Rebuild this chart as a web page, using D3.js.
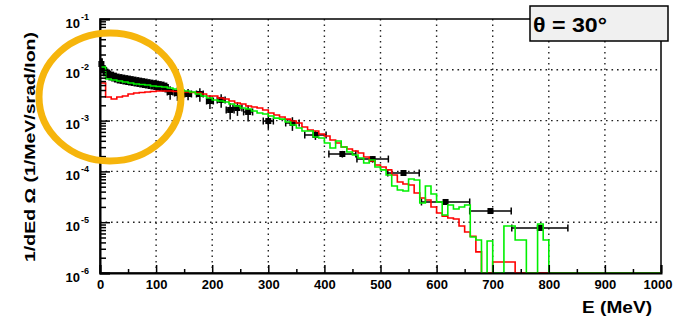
<!DOCTYPE html>
<html>
<head>
<meta charset="utf-8">
<script src="https://cdnjs.cloudflare.com/ajax/libs/d3/7.8.5/d3.min.js"></script>
<style>
    body { margin: 0; background: #fff; }
    svg { display: block; font-family: "Liberation Sans", Arial, sans-serif; }
    .axis text { font-size: 13px; font-weight: bold; fill: #000; }
    .axis .domain { stroke: #000; stroke-width: 2; }
    .axis .tick line { stroke: #000; stroke-width: 1.5; }
</style>
</head>
<body>
<div id="chart"></div>
<script>
// histogram bin edges in MeV (10 MeV bins)
const binEdges = d3.range(0, 1001, 10);

// simulation, red histogram
const redValues = [
    5.5e-3, 2.92e-3, 2.66e-3, 2.92e-3, 3.05e-3, 3.34e-3, 3.49e-3, 3.57e-3, 3.66e-3, 3.74e-3,
    3.83e-3, 3.83e-3, 3.83e-3, 3.74e-3, 3.66e-3, 3.66e-3, 3.57e-3, 3.49e-3, 3.34e-3, 3.05e-3,
    3.05e-3, 2.79e-3, 2.66e-3, 2.43e-3, 2.22e-3, 2.12e-3, 1.94e-3, 1.85e-3, 1.77e-3, 1.62e-3,
    1.41e-3, 1.29e-3, 1.18e-3, 1.07e-3, 9.8e-4, 8.97e-4, 7.48e-4, 6.53e-4, 6.24e-4, 5.45e-4,
    4.98e-4, 4.15e-4, 3.62e-4, 3.02e-4, 2.76e-4, 2.52e-4, 2.30e-4, 1.92e-4, 1.60e-4, 1.34e-4,
    1.22e-4, 1.07e-4, 8.5e-5, 6.2e-5, 5.65e-5, 5.4e-5, 3.76e-5, 2.99e-5, 2.73e-5, 1.99e-5,
    1.52e-5, 1.32e-5, 1.21e-5, 1.16e-5, 8.4e-6, 6.4e-6, 5.3e-6, 2.6e-6, 0, 0,
    1.65e-6, 1.65e-6, 1.65e-6, 1.65e-6, 0, 0, 0, 0, 0, 0,
    0, 0, 0, 0, 0, 0, 0, 0, 0, 0,
    0, 0, 0, 0, 0, 0, 0, 0, 0, 0
];

// simulation, green histogram
const greenValues = [
    1.135e-2, 6.59e-3, 6.30e-3, 6.02e-3, 5.75e-3, 5.50e-3, 5.25e-3, 5.14e-3, 5.02e-3, 4.80e-3,
    4.69e-3, 4.59e-3, 4.38e-3, 4.19e-3, 4.00e-3, 3.83e-3, 3.66e-3, 3.34e-3, 3.05e-3, 2.79e-3,
    2.55e-3, 2.43e-3, 2.32e-3, 2.12e-3, 1.94e-3, 1.77e-3, 1.69e-3, 1.55e-3, 1.41e-3, 1.35e-3,
    1.23e-3, 1.12e-3, 1.07e-3, 9.4e-4, 8.2e-4, 7.15e-4, 6.24e-4, 6.24e-4, 4.75e-4, 4.54e-4,
    3.62e-4, 2.89e-4, 3.97e-4, 3.02e-4, 2.41e-4, 2.10e-4, 1.84e-4, 1.46e-4, 1.68e-4, 1.22e-4,
    1.07e-4, 8.5e-5, 5.16e-5, 4.30e-5, 4.11e-5, 7.08e-5, 6.78e-5, 2.39e-5, 5.16e-5, 3.59e-5,
    2.50e-5, 1.39e-5, 2.18e-5, 1.82e-5, 1.99e-5, 2.18e-5, 5.1e-6, 4.47e-6, 0, 4.27e-6,
    0, 0, 8.4e-6, 8.4e-6, 4.47e-6, 4.47e-6, 0, 0, 9.2e-6, 4.47e-6,
    0, 0, 0, 0, 0, 0, 0, 0, 0, 0,
    0, 0, 0, 0, 0, 0, 0, 0, 0, 0
];

// measured points (black)
const dataEnergy = [
    2.5, 7.5, 12.5, 17.5, 22.5, 27.5, 32.5, 37.5, 42.5, 47.5, 52.5, 57.5,
    62.5, 67.5, 72.5, 77.5, 82.5, 87.5, 92.5, 97.5, 102.5, 107.5, 112.5, 117.5,
    125, 138, 157, 178, 196, 216, 232, 245, 264, 300, 343, 384, 432, 486, 541, 616, 696, 784
];
const dataValue = [
    1.30e-2, 9.9e-3, 8.65e-3, 7.9e-3, 7.55e-3, 7.2e-3, 6.9e-3, 6.75e-3, 6.59e-3, 6.44e-3, 6.30e-3, 6.16e-3,
    6.02e-3, 5.89e-3, 5.75e-3, 5.62e-3, 5.50e-3, 5.37e-3, 5.25e-3, 5.14e-3, 5.02e-3, 4.91e-3, 4.80e-3, 4.59e-3,
    3.66e-3, 3.49e-3, 3.34e-3, 3.34e-3, 2.43e-3, 2.55e-3, 1.62e-3, 1.77e-3, 1.48e-3, 9.8e-4, 8.97e-4, 5.21e-4,
    2.20e-4, 1.75e-4, 9.3e-5, 2.50e-5, 1.66e-5, 7.7e-6
];
const dataEnergyErr = [
    2.5, 2.5, 2.5, 2.5, 2.5, 2.5, 2.5, 2.5, 2.5, 2.5, 2.5, 2.5,
    2.5, 2.5, 2.5, 2.5, 2.5, 2.5, 2.5, 2.5, 2.5, 2.5, 2.5, 2.5,
    5, 5, 6, 6, 6, 7, 7, 8, 8, 9, 12, 19, 24, 28, 28, 43, 37, 50
];
const dataRelErr = [
    0.3, 0.25, 0.22, 0.22, 0.22, 0.22, 0.22, 0.22, 0.22, 0.22, 0.22, 0.22,
    0.22, 0.22, 0.22, 0.22, 0.22, 0.22, 0.22, 0.22, 0.22, 0.22, 0.22, 0.22,
    0.3, 0.3, 0.25, 0.3, 0.3, 0.3, 0.35, 0.3, 0.35, 0.3, 0.3, 0.2,
    0.15, 0.15, 0.1, 0.1, 0.1, 0.1
];

const xTickValues = [0, 100, 200, 300, 400, 500, 600, 700, 800, 900, 1000];
const yDecades = [-6, -5, -4, -3, -2, -1];
const titleText = 'θ = 30°';
const xLabel = 'E (MeV)';
const yLabel = '1/dEd Ω (1/MeV/srad/Ion)';

class SpectrumChart {
    constructor(_config) {
        this.config = {
            parentElement: _config.parentElement,
            containerWidth: _config.containerWidth || 673,
            containerHeight: _config.containerHeight || 320,
            margin: _config.margin || { top: 19, right: 12, bottom: 47, left: 100 }
        };
        this.initVis();
    }

    initVis() {
        let vis = this;

        vis.width = vis.config.containerWidth - vis.config.margin.left - vis.config.margin.right;
        vis.height = vis.config.containerHeight - vis.config.margin.top - vis.config.margin.bottom;

        vis.svg = d3.select(vis.config.parentElement)
            .append('svg')
            .attr('width', vis.config.containerWidth)
            .attr('height', vis.config.containerHeight);

        vis.chart = vis.svg.append('g')
            .attr('transform', `translate(${vis.config.margin.left},${vis.config.margin.top})`);

        vis.xScale = d3.scaleLinear().domain([0, 1000]).range([0, vis.width]);
        vis.yScale = d3.scaleLog().domain([1e-6, 1e-1]).range([vis.height, 0]);

        vis.gridG = vis.chart.append('g').attr('class', 'grid');
        vis.frame = vis.chart.append('rect')
            .attr('width', vis.width)
            .attr('height', vis.height)
            .attr('fill', 'none')
            .attr('stroke', '#000')
            .attr('stroke-width', 1.5);

        // points under the histograms, as in the original plot
        vis.pointG = vis.chart.append('g');
        vis.histoG = vis.chart.append('g');
        vis.xAxisG = vis.chart.append('g').attr('class', 'axis x-axis')
            .attr('transform', `translate(0,${vis.height})`);
        vis.xMinorG = vis.chart.append('g').attr('class', 'axis x-minor')
            .attr('transform', `translate(0,${vis.height})`);
        vis.yAxisG = vis.chart.append('g').attr('class', 'axis y-axis');
        vis.yMinorG = vis.chart.append('g').attr('class', 'axis y-minor');

        // axis titles
        vis.svg.append('text')
            .attr('transform', 'translate(35,147) rotate(-90)')
            .attr('text-anchor', 'middle')
            .attr('textLength', 230)
            .attr('lengthAdjust', 'spacingAndGlyphs')
            .style('font-size', '15px')
            .style('font-weight', 'bold')
            .text(yLabel);

        vis.svg.append('text')
            .attr('x', 652)
            .attr('y', 313)
            .attr('text-anchor', 'end')
            .attr('textLength', 70)
            .attr('lengthAdjust', 'spacingAndGlyphs')
            .style('font-size', '17px')
            .style('font-weight', 'bold')
            .text(xLabel);

        // title box
        vis.svg.append('rect')
            .attr('x', 530).attr('y', 6)
            .attr('width', 138).attr('height', 35)
            .attr('fill', '#f0f0f0')
            .attr('stroke', '#000')
            .attr('stroke-width', 1.5);
        vis.svg.append('text')
            .attr('x', 533).attr('y', 32)
            .attr('textLength', 74)
            .attr('lengthAdjust', 'spacingAndGlyphs')
            .style('font-size', '20px')
            .style('font-weight', 'bold')
            .text(titleText);

        vis.updateVis();
    }

    updateVis() {
        let vis = this;
        const x = vis.xScale, y = vis.yScale;
        const yv = v => v > 0 ? y(v) : vis.height;

        // dotted grid
        vis.gridG.selectAll('.gx')
            .data(xTickValues.filter(d => d > 0 && d < 1000))
            .join('line')
            .attr('class', 'gx')
            .attr('x1', d => x(d)).attr('x2', d => x(d))
            .attr('y1', 0).attr('y2', vis.height);
        vis.gridG.selectAll('.gy')
            .data(yDecades.filter(d => d > -6 && d < -1).map(d => Math.pow(10, d)))
            .join('line')
            .attr('class', 'gy')
            .attr('x1', 0).attr('x2', vis.width)
            .attr('y1', d => y(d)).attr('y2', d => y(d));
        vis.gridG.selectAll('line')
            .attr('stroke', '#222')
            .attr('stroke-width', 1.4)
            .attr('stroke-dasharray', '1.6,3.9');

        // histograms
        const line = d3.line()
            .x(d => x(d[0]))
            .y(d => yv(d[1]))
            .curve(d3.curveStepAfter);
        const histo = vals => {
            const pts = vals.map((v, i) => [binEdges[i], v]);
            pts.push([binEdges[vals.length], vals[vals.length - 1]]);
            return pts;
        };

        vis.histoG.selectAll('.histo')
            .data([{ vals: redValues, color: '#ff0000' }, { vals: greenValues, color: '#00f000' }])
            .join('path')
            .attr('class', 'histo')
            .attr('fill', 'none')
            .attr('stroke', d => d.color)
            .attr('stroke-width', 1.6)
            .attr('d', d => line(histo(d.vals)));

        // data points
        const pts = dataEnergy.map((e, i) => ({
            e: e, v: dataValue[i], ex: dataEnergyErr[i], r: dataRelErr[i]
        }));
        const ptG = vis.pointG.selectAll('.pt')
            .data(pts)
            .join('g')
            .attr('class', 'pt');
        ptG.append('line')
            .attr('x1', d => x(d.e - d.ex)).attr('x2', d => x(d.e + d.ex))
            .attr('y1', d => y(d.v)).attr('y2', d => y(d.v));
        ptG.append('line')
            .attr('x1', d => x(d.e)).attr('x2', d => x(d.e))
            .attr('y1', d => y(d.v * (1 - d.r))).attr('y2', d => y(d.v * (1 + d.r)));
        ptG.filter(d => d.ex > 4).each(function(d) {
            const g = d3.select(this);
            [d.e - d.ex, d.e + d.ex].forEach(ee => {
                g.append('line')
                    .attr('x1', x(ee)).attr('x2', x(ee))
                    .attr('y1', y(d.v) - 3.5).attr('y2', y(d.v) + 3.5);
            });
        });
        ptG.selectAll('line').attr('stroke', '#000').attr('stroke-width', 1.5);
        ptG.filter(d => d.ex <= 4).selectAll('line').attr('stroke-width', 3);
        ptG.append('rect')
            .attr('x', d => x(d.e) - 3)
            .attr('y', d => y(d.v) - 3)
            .attr('width', 6)
            .attr('height', 6)
            .attr('fill', '#000');

        // axes
        vis.xAxisG.call(d3.axisBottom(x).tickValues(xTickValues)
            .tickFormat(d3.format('d')).tickSize(-8).tickPadding(7));
        vis.xAxisG.selectAll('.tick text')
            .filter(d => d === 1000)
            .attr('text-anchor', 'end')
            .attr('x', 11);
        vis.xMinorG.call(d3.axisBottom(x)
            .tickValues(xTickValues.slice(0, -1).map(d => d + 50))
            .tickSize(-4).tickFormat(''));
        vis.xMinorG.select('.domain').remove();

        const decadeVals = yDecades.map(d => Math.pow(10, d));
        vis.yAxisG.call(d3.axisLeft(y).tickValues(decadeVals).tickSize(-10).tickFormat(''));
        vis.yAxisG.selectAll('.tick line').attr('stroke-width', 2);
        const minorVals = [];
        yDecades.slice(0, -1).forEach(d => {
            for (let k = 2; k <= 9; k++) minorVals.push(k * Math.pow(10, d));
        });
        vis.yMinorG.call(d3.axisLeft(y).tickValues(minorVals).tickSize(-6).tickFormat(''));
        vis.yMinorG.select('.domain').remove();

        // y tick labels as 10^n
        const lab = vis.yAxisG.selectAll('.tick');
        lab.append('text')
            .attr('x', -20).attr('y', 8)
            .attr('text-anchor', 'end')
            .text('10');
        lab.append('text')
            .attr('x', -19).attr('y', 0)
            .attr('text-anchor', 'start')
            .style('font-size', '9px')
            .text((d, i) => yDecades[i]);

        // highlight ellipse
        vis.svg.append('ellipse')
            .attr('cx', 110).attr('cy', 97)
            .attr('rx', 71).attr('ry', 64)
            .attr('fill', 'none')
            .attr('stroke', '#f6b50c')
            .attr('stroke-width', 7);
    }
}

new SpectrumChart({ parentElement: '#chart' });
</script>
</body>
</html>
